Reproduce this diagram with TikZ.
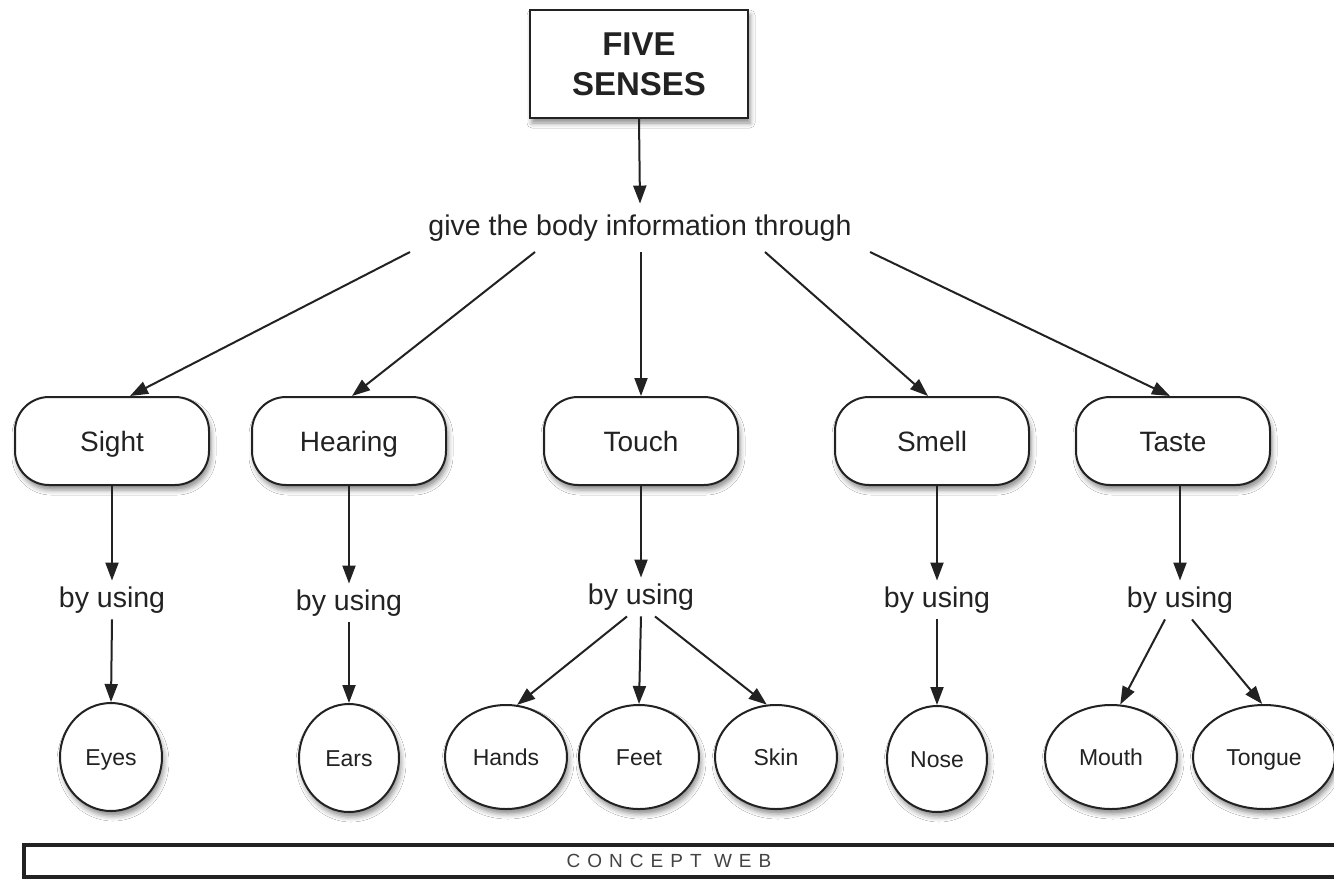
\documentclass[tikz,border=0pt]{standalone}
\usepackage{fontspec}
\setmainfont{Liberation Sans}
\usetikzlibrary{arrows.meta,shapes.geometric,shadows.blur,calc}
\definecolor{ink}{HTML}{222222}
\begin{document}
\begin{tikzpicture}[x=1pt,y=-1pt,
  every node/.style={text=ink},
  arr/.style={draw=ink, line width=2pt, -{Triangle[length=18pt,width=13pt]}},
  soft/.style={blur shadow={shadow xshift=2pt, shadow yshift=-5pt, shadow blur radius=5pt, shadow opacity=45}},
  titlebox/.style={draw=ink, line width=2.2pt, fill=white, minimum width=218pt, minimum height=108pt,
    align=center, font=\fontsize{33}{40}\selectfont\bfseries, soft},
  sense/.style={draw=ink, line width=2pt, fill=white, rounded corners=34pt, minimum width=194pt,
    minimum height=88pt, font=\fontsize{28}{30}\selectfont, text height=23pt, text depth=3pt, soft},
  organ/.style={ellipse, draw=ink, line width=2pt, fill=white, inner sep=0pt,
    font=\fontsize{23}{25}\selectfont, text height=19pt, text depth=2pt, soft},
  link/.style={font=\fontsize{28.5}{30}\selectfont, inner sep=6pt, text height=20.5pt, text depth=6pt},
]
\useasboundingbox (0,0) rectangle (1334,879);
\fill[white] (0,0) rectangle (1334,879);

% root and linking phrase
\node[titlebox] (five) at (639,64) {FIVE\\SENSES};
\node[link, inner sep=11pt] (give) at (640,228) {give the body information through};

% the five senses
\node[sense] (sight)   at (112,441) {Sight};
\node[sense] (hearing) at (349,441) {Hearing};
\node[sense] (touch)   at (641,441) {Touch};
\node[sense] (smell)   at (932,441) {Smell};
\node[sense] (taste)   at (1173,441) {Taste};

% "by using" phrases
\node[link] (by1) at (112,600) {by using};
\node[link] (by2) at (349,603) {by using};
\node[link] (by3) at (641,597) {by using};
\node[link] (by4) at (937,600) {by using};
\node[link] (by5) at (1180,600) {by using};

% body parts
\node[organ, minimum width=102pt, minimum height=108pt] (eyes)   at (111,757)  {Eyes};
\node[organ, minimum width=100pt, minimum height=108pt] (ears)   at (349,758)  {Ears};
\node[organ, minimum width=122pt, minimum height=104pt] (hands)  at (506,757)  {Hands};
\node[organ, minimum width=120pt, minimum height=104pt] (feet)   at (639,757)  {Feet};
\node[organ, minimum width=122pt, minimum height=104pt] (skin)   at (776,757)  {Skin};
\node[organ, minimum width=100pt, minimum height=106pt] (nose)   at (937,759)  {Nose};
\node[organ, minimum width=132pt, minimum height=104pt] (mouth)  at (1111,757) {Mouth};
\node[organ, minimum width=142pt, minimum height=104pt] (tongue) at (1264,757) {Tongue};

% connectors
\draw[arr] (five.south) -- (give.north);
\draw[arr] ($(give.center)+(-230,24)$) -- ([xshift=18pt]sight.north);
\draw[arr] ($(give.center)+(-105,24)$) -- ([xshift=3pt]hearing.north);
\draw[arr] (give.south -| touch.north) -- (touch.north);
\draw[arr] ($(give.center)+(125,24)$) -- ([xshift=-4pt]smell.north);
\draw[arr] ($(give.center)+(230,24)$) -- ([xshift=-3pt]taste.north);

\draw[arr] (sight.south) -- (by1.north);
\draw[arr] (hearing.south) -- (by2.north);
\draw[arr] (touch.south) -- (by3.north);
\draw[arr] (by4.north |- smell.south) -- (by4.north);
\draw[arr] (by5.north |- taste.south) -- (by5.north);

\draw[arr] (by1.south) -- (eyes.north);
\draw[arr] (by2.south) -- (ears.north);
\draw[arr] ([xshift=-14pt]by3.south) -- (hands.78);
\draw[arr] (by3.south) -- (feet.north);
\draw[arr] ([xshift=14pt]by3.south) -- (skin.100);
\draw[arr] (by4.south) -- (nose.north);
\draw[arr] ([xshift=-15pt]by5.south) -- (mouth.80);
\draw[arr] ([xshift=12pt]by5.south) -- (tongue.92);

% caption bar
\draw[draw=ink, line width=3.5pt, fill=white] (24,845) rectangle (1345,877);
\node[font=\fontsize{19}{20}\selectfont\addfontfeature{LetterSpace=37}, text=ink!85] (caption) at (669,861) {CONCEPT WEB};
\end{tikzpicture}
\end{document}
